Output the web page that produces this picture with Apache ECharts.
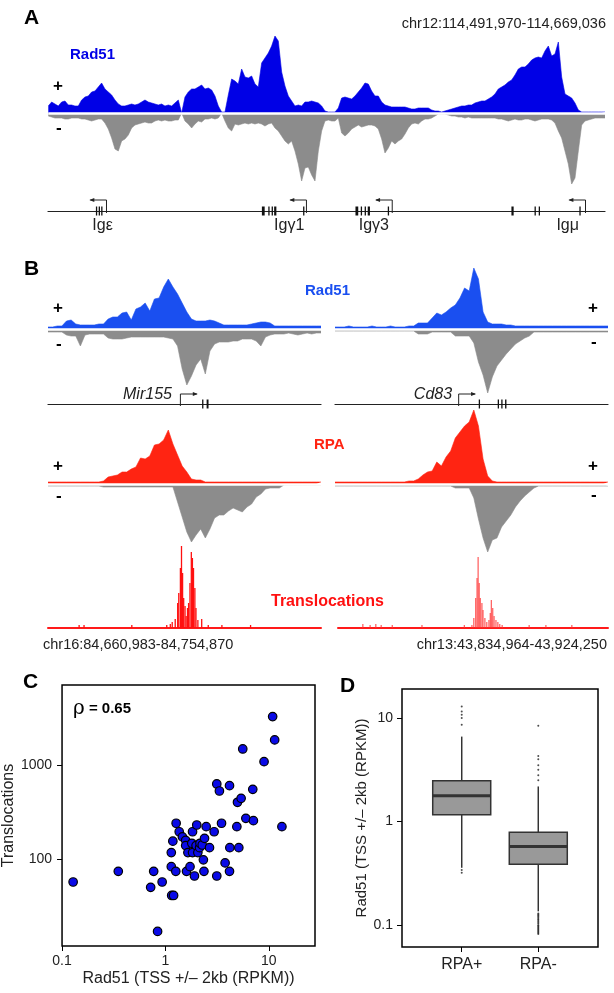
<!DOCTYPE html>
<html>
<head>
<meta charset="utf-8">
<script src="https://cdn.jsdelivr.net/npm/echarts@6/dist/echarts.min.js"></script>
<style>
  html, body { margin: 0; padding: 0; background: #fff; }
  #chart { width: 614px; height: 993px; }
</style>
</head>
<body>
<div id="chart"></div>
<script>
// ---------- data ----------
// A: Rad51 coverage over the Igh locus, 168 evenly spaced bins, + and - strand
var rad51APlus = [
  7,11,9,7,11,12,8,8,7,7, 13,16,17,21,22,26,30,24,21,18, 13,9,7,7,8,9,8,9,11,13,
  11,10,9,8,9,7,8,7,10,13, 0,16,21,24,24,26,28,24,25,23, 17,7,1,1,18,34,32,29,44,36,
  35,37,29,26,50,55,60,67,77,72, 41,27,17,12,7,8,7,11,11,12, 11,10,7,2,1,
  1,1,5,15,16,15,14,17,21,25, 30,29,22,17,17,11,8,7,6,6, 6,6,6,5,4,4,5,5,5,5,
  3,2,2,1,2,3,4,5,6,7, 7,8,8,10,11,12,12,14,16,19, 24,26,28,31,33,38,44,46,46,49,
  53,55,56,55,62,67,57,59,71,36, 19,17,15,10,3,1,1,1,1,1, 1,1,1];
var rad51AMinus = [
  3,4,5,5,5,6,6,5,5,5, 6,6,7,8,7,6,6,10,16,25, 36,38,28,26,22,15,12,11,10,9,
  10,10,8,7,8,7,8,8,7,7, 0,8,11,15,11,8,9,6,6,5, 6,5,0,8,15,18,11,12,11,10,
  11,10,11,10,11,13,11,10,15,18, 23,28,31,28,38,51,68,55,54,62, 68,38,18,8,7,
  8,8,5,20,23,20,16,14,12,14, 13,12,12,13,16,26,40,35,28,31, 28,26,21,15,11,10,11,8,6,6,
  5,3,1,1,1,2,3,3,4,4, 5,4,5,5,5,5,5,5,5,5, 6,6,7,8,7,6,7,7,6,6,
  7,8,7,6,6,6,7,10,18,25, 38,51,71,65,38,12,8,7,6,5, 5,5,5];

// B: Mir155 (left) and Cd83 (right) loci, 60 bins each
var rad51LPlus = [2,2,3,3,8,9,5,4,4,4, 4,5,5,10,12,12,16,17,9,20, 22,26,18,30,31,42,50,42,35,26,
  17,10,8,8,8,9,8,6,4,4, 4,4,4,4,5,6,7,7,6,3, 3,3,3,3,3,3,3,3,3,3];
var rad51LMinus = [3,3,3,3,6,7,7,17,6,5, 5,5,5,9,10,10,10,9,8,8, 8,8,8,8,8,8,9,10,17,40,
  56,47,36,30,45,22,15,13,13,13, 12,12,10,10,10,12,17,8,6,5, 5,5,4,5,6,5,4,5,4,4];
var rad51RPlus = [2,2,2,3,2,2,2,2,3,2, 2,2,3,2,2,2,3,3,6,6, 6,11,16,14,17,21,24,31,41,38,
  61,50,17,7,5,5,5,4,4,3, 3,3,3,3,3,3,3,3,3,3, 3,3,3,3,3,3,3,3,3,3];
var rad51RMinus = [2,2,2,2,2,2,2,2,2,2, 2,2,2,2,2,2,2,2,5,5, 5,3,3,3,3,3,7,7,7,7,
  14,33,46,64,48,37,31,25,20,15, 12,9,7,3,3,3,3,3,3,3, 3,3,3,3,3,3,3,3,3,3];
var rpaLPlus = [2,2,2,2,2,2,2,2,2,2, 2,2,3,7,8,9,12,12,15,17, 26,25,28,39,40,44,54,40,29,18,
  12,5,4,4,2,2,2,2,2,2, 2,2,2,2,2,2,2,2,2,2, 2,2,2,2,2,2,2,2,2,2];
var rpaLMinus = [2,2,2,2,2,2,2,2,2,2, 2,2,3,3,3,3,3,3,3,3, 3,3,3,3,3,3,3,3,18,33,
  48,58,51,45,54,45,34,31,31,27, 24,26,28,23,20,13,10,5,4,4, 4,1,1,1,1,1,1,1,1,1];
var rpaRPlus = [2,2,2,2,2,2,2,2,2,2, 2,2,2,2,2,2,3,3,5,9, 12,13,22,18,27,33,46,52,58,62,
  74,58,25,8,3,2,2,2,2,2, 2,2,2,2,2,2,2,2,2,2, 2,2,2,2,2,2,2,2,2,2];
var rpaRMinus = [2,2,2,2,2,2,2,2,2,2, 2,2,2,2,2,2,2,2,2,2, 2,2,2,2,2,2,4,4,4,4,
  14,35,54,68,56,54,43,37,31,23, 17,12,8,4,2,2,2,2,2,2, 2,2,2,2,2,2,2,2,2,2];

// translocation junctions: [position (% of locus), count]
var transLeft = [[11.4,3],[13.2,3],[30.7,3],[43.5,3],[44.8,4],[45.5,6],[46.6,9],[47.5,25],[47.9,35],
  [48.5,60],[48.9,82],[49.3,55],[49.7,30],[50.2,22],[50.6,12],[51.1,20],[51.5,25],[52.0,45],[52.5,76],
  [52.9,70],[53.3,60],[53.8,40],[54.2,20],[54.9,8],[56.3,9],[58.7,3],[63.7,3],[74.2,3]];
var transRight = [[9.2,4],[11.9,3],[14.0,4],[16.0,3],[20.1,3],[31.1,3],[46.8,3],[49.6,3],[50.3,10],
  [51.0,30],[51.5,50],[51.9,71],[52.3,45],[52.7,30],[53.3,25],[53.7,18],[54.4,10],[55.1,6],[55.9,8],
  [56.4,15],[56.8,28],[57.3,20],[57.8,12],[58.5,8],[59.2,6],[59.9,4],[60.8,3],[70.8,3],[77.0,3],[86.6,3]];

// gene models (% of locus): exons [start, end], TSS arrows [tss, arrow tip], labels
var exonsA = [[8.6,8.75],[9.1,9.25],[9.55,9.7],[38.4,38.9],[39.55,39.7],[40.15,40.3],[40.6,41.0],[45.8,45.95],
  [55.2,55.7],[56.15,56.3],[56.85,57.0],[57.4,57.8],[61.0,61.15],[83.2,83.6],[87.35,87.5],[88.1,88.25],[95.4,95.55]];
var tssA = [[10.5,7.6],[46.4,43.5],[61.8,58.9],[96.5,93.6]];
var labelPosA = [9.8, 43.3, 58.5, 93.3];
var labelsA = ['Ig\u03b5', 'Ig\u03b31', 'Ig\u03b33', 'Ig\u03bc'];
var exonsL = [[56.45,56.6],[58.1,58.8]];
var tssL = [[48.5,54.5]];
var exonsR = [[52.65,52.8],[59.6,60.0],[60.9,61.3],[62.3,62.8]];
var tssR = [[45.3,51.3]];

// C: Rad51 at TSS vs translocations (one point per gene)
var rad51TSS = [0.128,0.35,0.77,0.72,0.93,0.84,1.15,1.2,1.14,1.14,1.18,1.26,1.27,1.36,1.46,1.57,1.57,1.65,1.6,1.73,
  1.8,1.83,1.83,1.91,1.98,2.06,2.01,2.14,2.16,2.27,2.33,2.36,2.39,2.48,2.67,2.96,3.14,3.14,3.33,3.49,
  3.78,4.17,4.17,4.2,4.91,4.98,5.4,5.13,5.6,6.0,7.0,7.1,9.0,10.9,11.4,13.4];
var translocCounts = [57,74,74,50,57,17,41,41,83,117,155,74,240,195,172,158,139,117,74,83,
  147,195,117,66,139,117,230,132,147,141,98,74,166,221,132,195,66,628,529,240,
  91,74,603,132,221,401,442,132,1480,271,551,256,1084,3265,1845,221];

// D: box statistics [low whisker, Q1, median, Q3, high whisker]
var boxNames = ['RPA+', 'RPA-'];
var boxStats = [[0.358,1.16,1.77,2.48,6.6],[0.136,0.388,0.574,0.79,2.18]];
var outliersPlus = [12.9,11.5,10.7,10,8.6,0.34,0.32];
var outliersMinus = [8.4,4.3,4.0,3.5,3.16,2.8,2.5,0.13,0.127,0.124,0.121,0.118,0.115,0.112,0.109,0.106,
  0.103,0.1,0.098,0.096,0.094,0.092,0.09,0.088,0.086,0.084,0.082];
var ticksC_x = [0.1, 1, 10];
var ticksC_y = [100, 1000];
var ticksD_y = [0.1, 1, 10];

// ---------- chart ----------
var FONT = '"Liberation Sans", Arial, Helvetica, sans-serif';
var BLUE_A = '#0000e6', BLUE_B = '#1a4ff0', GRAY = '#8c8c8c', RED = '#ff2412';

var chart = echarts.init(document.getElementById('chart'));
var grids = [], xAxes = [], yAxes = [], series = [];

function idx(n) { var a = []; for (var i = 0; i < n; i++) a.push(i); return a; }
function neg(arr) { return arr.map(function (v) { return -v; }); }
function addGrid(g) { grids.push(g); return grids.length - 1; }
function fmt(v) { return String(+(+v).toPrecision(3)); }

// coverage track: colored + strand above, gray - strand below
function coverage(left, top, width, height, ymin, ymax, plus, minus, color) {
  var gi = addGrid({ left: left, top: top, width: width, height: height });
  xAxes.push({ gridIndex: gi, type: 'category', data: idx(plus.length), boundaryGap: false, show: false });
  yAxes.push({ gridIndex: gi, type: 'value', min: ymin, max: ymax, show: false });
  series.push({ type: 'line', xAxisIndex: gi, yAxisIndex: gi, data: plus, symbol: 'none',
    lineStyle: { width: 0.6, color: color }, areaStyle: { color: color, opacity: 1 } });
  series.push({ type: 'line', xAxisIndex: gi, yAxisIndex: gi, data: neg(minus), symbol: 'none',
    lineStyle: { width: 0.6, color: GRAY }, areaStyle: { color: GRAY, opacity: 1 },
    markLine: { silent: true, symbol: 'none', label: { show: false },
      lineStyle: { color: '#fff', width: 2.5, type: 'solid' }, data: [{ yAxis: 0 }] } });
}

// gene model track; line drawn as the x axis at grid bottom
function geneTrack(left, lineY, width, exons, tss, rise) {
  var gi = addGrid({ left: left, top: lineY - 20, width: width, height: 20 });
  xAxes.push({ gridIndex: gi, type: 'value', min: 0, max: 100,
    axisLine: { show: true, onZero: false, lineStyle: { color: '#222', width: 1.2 } },
    axisTick: { show: false }, axisLabel: { show: false }, splitLine: { show: false } });
  yAxes.push({ gridIndex: gi, type: 'value', min: 0, max: 1, show: false });
  series.push({ type: 'custom', xAxisIndex: gi, yAxisIndex: gi, data: exons, encode: { x: [0, 1] },
    renderItem: function (params, api) {
      var a = api.coord([api.value(0), 0]), b = api.coord([api.value(1), 0]);
      return { type: 'rect', shape: { x: a[0], y: a[1] - 4.5, width: Math.max(1.3, b[0] - a[0]), height: 9 },
        style: { fill: '#111' } };
    } });
  series.push({ type: 'custom', xAxisIndex: gi, yAxisIndex: gi, data: tss, encode: { x: [0, 1] },
    renderItem: function (params, api) {
      var a = api.coord([api.value(0), 0]), b = api.coord([api.value(1), 0]);
      var y = a[1] - rise, d = a[0] > b[0] ? 1 : -1;
      return { type: 'group', children: [
        { type: 'polyline', shape: { points: [[a[0], a[1] + 2], [a[0], y], [b[0], y]] },
          style: { stroke: '#222', lineWidth: 1, fill: null } },
        { type: 'polygon', shape: { points: [[b[0] - d * 1, y], [b[0] + d * 4, y - 2], [b[0] + d * 4, y + 2]] },
          style: { fill: '#222' } }
      ] };
    } });
  return gi;
}

function geneLabels(gi, pos, names, opts) {
  series.push({ type: 'custom', xAxisIndex: gi, yAxisIndex: gi, data: pos.map(function (p) { return [p]; }),
    encode: { x: 0 },
    renderItem: function (params, api) {
      var a = api.coord([api.value(0), 0]);
      return { type: 'text', x: a[0] + opts.dx, y: a[1] + opts.dy,
        style: { text: names[params.dataIndex], fill: '#222', font: opts.font,
          align: opts.align, verticalAlign: 'middle' } };
    } });
}

function transTrack(left, top, width, data, color) {
  var gi = addGrid({ left: left, top: top, width: width, height: 84 });
  xAxes.push({ gridIndex: gi, type: 'value', min: 0, max: 100,
    axisLine: { show: true, onZero: false, lineStyle: { color: '#ff1a1a', width: 2 } },
    axisTick: { show: false }, axisLabel: { show: false }, splitLine: { show: false } });
  yAxes.push({ gridIndex: gi, type: 'value', min: 0, max: 84, show: false });
  series.push({ type: 'bar', xAxisIndex: gi, yAxisIndex: gi, data: data, barWidth: 1.3,
    itemStyle: { color: color } });
}

// panel A
coverage(48.3, 33, 556.7, 152, -72, 80, rad51APlus, rad51AMinus, BLUE_A);
var gA = geneTrack(48, 211, 557, exonsA, tssA, 11);
geneLabels(gA, labelPosA, labelsA, { dx: 0, dy: 15, align: 'center', font: '16px ' + FONT });

// panel B
coverage(48, 267, 273, 128, -66, 62, rad51LPlus, rad51LMinus, BLUE_B);
coverage(335, 267, 273, 128, -66, 62, rad51RPlus, rad51RMinus, BLUE_B);
var gL = geneTrack(48, 404, 273, exonsL, tssL, 10);
geneLabels(gL, [45.4], ['Mir155'], { dx: 0, dy: -9, align: 'right', font: 'italic 16px ' + FONT });
var gR = geneTrack(335, 404, 273, exonsR, tssR, 10);
geneLabels(gR, [42.9], ['Cd83'], { dx: 0, dy: -9, align: 'right', font: 'italic 16px ' + FONT });
coverage(48, 408, 273, 146, -70, 76, rpaLPlus, rpaLMinus, RED);
coverage(335, 408, 273, 146, -70, 76, rpaRPlus, rpaRMinus, RED);
transTrack(48, 544, 273, transLeft, '#ff1010');
transTrack(338, 544, 270, transRight, 'rgba(255,50,50,0.75)');

// panel C
var gC = addGrid({ left: 61, top: 685, width: 254, height: 261, show: true,
  borderColor: '#000', borderWidth: 1.5, backgroundColor: 'transparent' });
xAxes.push({ gridIndex: gC, type: 'log', logBase: 10, min: 0.1, max: 28,
  name: 'Rad51 (TSS +/\u2013 2kb (RPKM))', nameLocation: 'middle', nameGap: 25,
  nameTextStyle: { fontSize: 16, color: '#222' },
  axisLine: { show: false }, splitLine: { show: false },
  axisTick: { show: true, length: 5, customValues: ticksC_x, lineStyle: { color: '#000' } },
  axisLabel: { customValues: ticksC_x, formatter: fmt, fontSize: 14, color: '#222', margin: 8 } });
yAxes.push({ gridIndex: gC, type: 'log', logBase: 10, min: 11.9, max: 7080,
  name: 'Translocations', nameLocation: 'middle', nameGap: 41, nameRotate: 90,
  nameTextStyle: { fontSize: 16, color: '#222' },
  axisLine: { show: false }, splitLine: { show: false },
  axisTick: { show: true, length: 5, customValues: ticksC_y, lineStyle: { color: '#000' } },
  axisLabel: { customValues: ticksC_y, formatter: fmt, fontSize: 14, color: '#222', margin: 10 } });
series.push({ type: 'scatter', xAxisIndex: gC, yAxisIndex: gC,
  data: rad51TSS.map(function (x, i) { return [x, translocCounts[i]]; }),
  symbolSize: 8.5, itemStyle: { color: '#0a0ae6', borderColor: '#000', borderWidth: 1.2, opacity: 1 } });

// panel D
var gD = addGrid({ left: 402, top: 689, width: 196, height: 258, show: true,
  borderColor: '#000', borderWidth: 1.5, backgroundColor: 'transparent' });
xAxes.push({ gridIndex: gD, type: 'value', min: 0.22, max: 2.78,
  axisLine: { show: false }, splitLine: { show: false },
  axisTick: { show: true, length: 5, customValues: [1, 2], lineStyle: { color: '#000' } },
  axisLabel: { customValues: [1, 2], formatter: function (v) { return boxNames[Math.round(v) - 1]; },
    fontSize: 16, color: '#222', margin: 10 } });
yAxes.push({ gridIndex: gD, type: 'log', logBase: 10, min: 0.0616, max: 19,
  name: 'Rad51 (TSS +/\u2013 2kb (RPKM))', nameLocation: 'middle', nameGap: 32, nameRotate: 90,
  nameTextStyle: { fontSize: 15, color: '#222' },
  axisLine: { show: false }, splitLine: { show: false },
  axisTick: { show: true, length: 5, customValues: ticksD_y, lineStyle: { color: '#000' } },
  axisLabel: { customValues: ticksD_y, formatter: fmt, fontSize: 14, color: '#222', margin: 9 } });
series.push({ type: 'custom', xAxisIndex: gD, yAxisIndex: gD,
  data: boxStats.map(function (s, i) { return [i + 1].concat(s); }),
  encode: { x: 0, y: [1, 2, 3, 4, 5] },
  renderItem: function (params, api) {
    var x = api.value(0), hw = 29;
    var lo = api.coord([x, api.value(1)]), q1 = api.coord([x, api.value(2)]),
        md = api.coord([x, api.value(3)]), q3 = api.coord([x, api.value(4)]), hi = api.coord([x, api.value(5)]);
    var ln = { stroke: '#333', lineWidth: 1.5 };
    return { type: 'group', children: [
      { type: 'line', shape: { x1: lo[0], y1: lo[1], x2: q1[0], y2: q1[1] }, style: ln },
      { type: 'line', shape: { x1: q3[0], y1: q3[1], x2: hi[0], y2: hi[1] }, style: ln },
      { type: 'rect', shape: { x: q3[0] - hw, y: q3[1], width: 2 * hw, height: q1[1] - q3[1] },
        style: { fill: '#999', stroke: '#333', lineWidth: 1.5 } },
      { type: 'line', shape: { x1: md[0] - hw, y1: md[1], x2: md[0] + hw, y2: md[1] },
        style: { stroke: '#333', lineWidth: 3 } }
    ] };
  } });
series.push({ type: 'scatter', xAxisIndex: gD, yAxisIndex: gD, symbolSize: 2,
  itemStyle: { color: '#222' },
  data: outliersPlus.map(function (v) { return [1, v]; }).concat(outliersMinus.map(function (v) { return [2, v]; })) });

// text labels
function t(text, pos, style) {
  var o = { text: text, padding: 0, textStyle: Object.assign({ fontFamily: FONT, color: '#000', fontWeight: 'normal' }, style) };
  return Object.assign(o, pos);
}
var bold = function (size, color) { return { fontSize: size, fontWeight: 'bold', color: color || '#000' }; };
var titles = [
  t('A', { left: 24, top: 8 }, bold(21)),
  t('chr12:114,491,970-114,669,036', { right: 8, top: 16 }, { fontSize: 14.5, color: '#222' }),
  t('Rad51', { left: 70, top: 47 }, bold(15, BLUE_A)),
  t('+', { left: 53, top: 78 }, bold(17)),
  t('-', { left: 56, top: 120 }, bold(17)),
  t('B', { left: 24, top: 259 }, bold(21)),
  t('Rad51', { left: 305, top: 283 }, bold(15, BLUE_B)),
  t('+', { left: 53, top: 300 }, bold(17)),
  t('-', { left: 56, top: 336 }, bold(17)),
  t('+', { left: 588, top: 300 }, bold(17)),
  t('-', { left: 591, top: 334 }, bold(17)),
  t('RPA', { left: 314, top: 437 }, bold(15, RED)),
  t('+', { left: 53, top: 458 }, bold(17)),
  t('-', { left: 56, top: 488 }, bold(17)),
  t('+', { left: 588, top: 458 }, bold(17)),
  t('-', { left: 591, top: 487 }, bold(17)),
  t('Translocations', { left: 271, top: 594 }, bold(16, '#ff1010')),
  t('chr16:84,660,983-84,754,870', { left: 43, top: 637 }, { fontSize: 14.5, color: '#222' }),
  t('chr13:43,834,964-43,924,250', { right: 7, top: 637 }, { fontSize: 14.5, color: '#222' }),
  t('C', { left: 23, top: 672 }, bold(21)),
  t('D', { left: 340, top: 676 }, bold(21)),
  t('{r|\u03c1}{v| = 0.65}', { left: 73, top: 699 }, { fontSize: 15,
    rich: { r: { fontFamily: 'DejaVu Serif, serif', fontSize: 20, color: '#000' },
            v: { fontFamily: FONT, fontSize: 15, fontWeight: 'bold', color: '#000' } } })
];

chart.setOption({
  animation: false,
  backgroundColor: '#fff',
  textStyle: { fontFamily: FONT },
  title: titles,
  grid: grids,
  xAxis: xAxes,
  yAxis: yAxes,
  series: series
});
</script>
</body>
</html>
